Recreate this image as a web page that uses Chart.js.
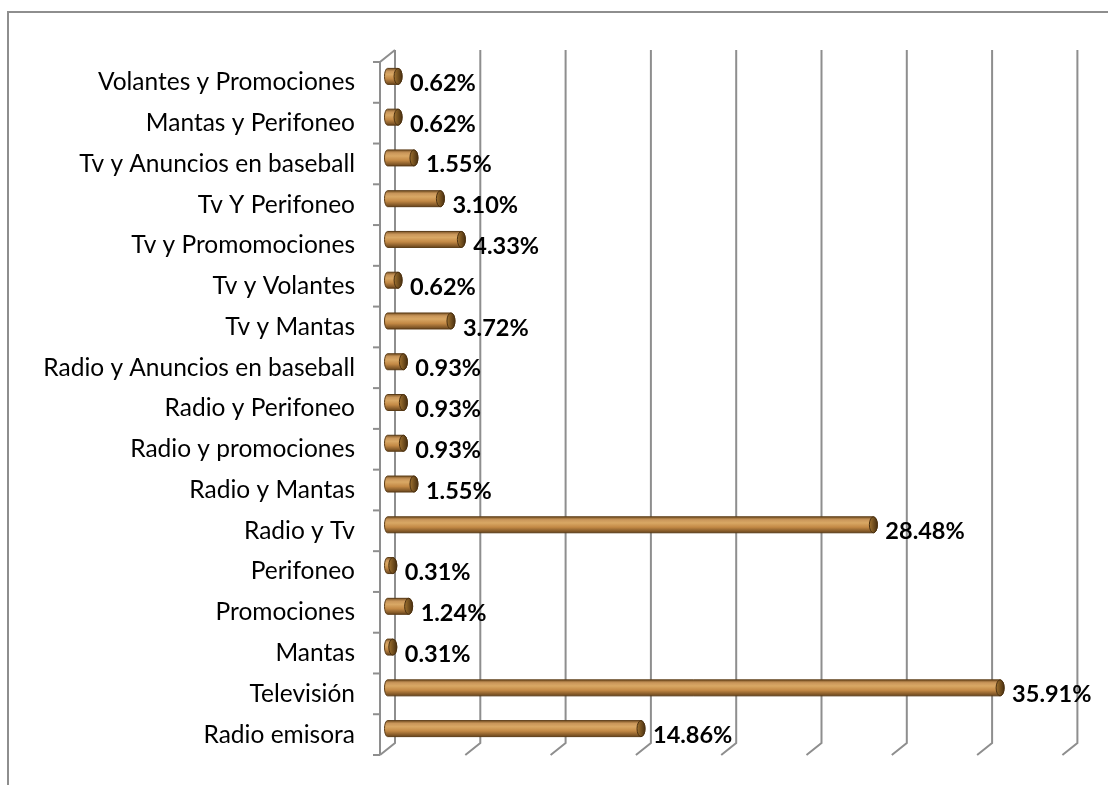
<!DOCTYPE html>
<html>
<head>
<meta charset="utf-8">
<script src="https://cdn.jsdelivr.net/npm/chart.js@4.4.0/dist/chart.umd.min.js"></script>
<style>
  html, body { margin: 0; padding: 0; background: #fff; }
  #wrap { width: 1108px; height: 785px; }
</style>
</head>
<body>
<div id="wrap"><canvas id="mediosChart" width="1108" height="785"></canvas></div>
<script>
// Medios de publicidad (porcentaje de respuestas), de arriba hacia abajo
const categorias = [
    'Volantes y Promociones',
    'Mantas y Perifoneo',
    'Tv y Anuncios en baseball',
    'Tv Y Perifoneo',
    'Tv y Promomociones',
    'Tv y Volantes',
    'Tv y Mantas',
    'Radio y Anuncios en baseball',
    'Radio y Perifoneo',
    'Radio y promociones',
    'Radio y Mantas',
    'Radio y Tv',
    'Perifoneo',
    'Promociones',
    'Mantas',
    'Televisión',
    'Radio emisora'
];
const porcentajes = [0.62, 0.62, 1.55, 3.10, 4.33, 0.62, 3.72, 0.93, 0.93, 0.93, 1.55, 28.48, 0.31, 1.24, 0.31, 35.91, 14.86];
const ejeMax = 40;
const ejePaso = 5;

// profundidad del efecto 3D (pared del fondo)
const DEPTH_X = 15;
const DEPTH_Y = -12;
const GRID_COLOR = '#8e8e8e';

// marco exterior, pared lateral y líneas de división en perspectiva
const wallsPlugin = {
    id: 'walls',
    beforeDatasetsDraw(chart) {
        const ctx = chart.ctx;
        const area = chart.chartArea;
        const x = chart.scales.x;
        ctx.save();
        ctx.strokeStyle = GRID_COLOR;
        ctx.lineWidth = 2;

        // marco
        ctx.beginPath();
        ctx.moveTo(8, chart.height);
        ctx.lineTo(8, 12);
        ctx.lineTo(chart.width, 12);
        ctx.stroke();

        // líneas verticales del fondo con su pie inclinado
        x.ticks.forEach(t => {
            const px = x.getPixelForValue(t.value);
            ctx.beginPath();
            ctx.moveTo(px + DEPTH_X, area.top + DEPTH_Y);
            ctx.lineTo(px + DEPTH_X, area.bottom + DEPTH_Y);
            ctx.lineTo(px, area.bottom);
            ctx.stroke();
        });

        // eje de categorías (frente) y marcas
        const x0 = x.getPixelForValue(0);
        ctx.beginPath();
        ctx.moveTo(x0 + DEPTH_X, area.top + DEPTH_Y);
        ctx.lineTo(x0, area.top);
        ctx.lineTo(x0, area.bottom);
        ctx.stroke();
        const n = categorias.length;
        const paso = (area.bottom - area.top) / n;
        for (let i = 0; i <= n; i++) {
            const py = area.top + i * paso;
            ctx.beginPath();
            ctx.moveTo(x0 - 7, py);
            ctx.lineTo(x0, py);
            ctx.stroke();
        }
        ctx.restore();
    }
};

// cilindros y etiquetas de valor
const cylinderPlugin = {
    id: 'cylinders',
    afterDatasetsDraw(chart) {
        const ctx = chart.ctx;
        const meta = chart.getDatasetMeta(0);
        const ox = DEPTH_X / 2;
        const oy = DEPTH_Y / 2;
        ctx.save();
        meta.data.forEach((bar, i) => {
            const h = bar.height;
            const r = h / 2;
            const cx = 4;
            const x0 = bar.base + ox;
            const x1 = bar.x + ox;
            const cy = bar.y + oy;
            const top = cy - r;

            const grad = ctx.createLinearGradient(0, top, 0, top + h);
            grad.addColorStop(0, '#7c5526');
            grad.addColorStop(0.18, '#c9965a');
            grad.addColorStop(0.38, '#d9a865');
            grad.addColorStop(0.65, '#c38945');
            grad.addColorStop(1, '#6a461d');

            ctx.beginPath();
            ctx.moveTo(x0, top);
            ctx.lineTo(x1, top);
            ctx.ellipse(x1, cy, cx, r, 0, -Math.PI / 2, Math.PI / 2);
            ctx.lineTo(x0, top + h);
            ctx.ellipse(x0, cy, cx - 1, r, 0, Math.PI / 2, Math.PI * 1.5);
            ctx.closePath();
            ctx.fillStyle = grad;
            ctx.fill();
            ctx.lineWidth = 1;
            ctx.strokeStyle = '#5b3c17';
            ctx.stroke();

            // tapa del extremo
            const capGrad = ctx.createLinearGradient(x1 - cx, 0, x1 + cx, 0);
            capGrad.addColorStop(0, '#a0722f');
            capGrad.addColorStop(1, '#4a3010');
            ctx.beginPath();
            ctx.ellipse(x1, cy, cx, r, 0, 0, Math.PI * 2);
            ctx.fillStyle = capGrad;
            ctx.fill();
            ctx.strokeStyle = '#4a3010';
            ctx.stroke();

            // etiqueta
            ctx.fillStyle = '#000';
            ctx.font = 'bold 23.5px Lato';
            ctx.textAlign = 'left';
            ctx.textBaseline = 'middle';
            ctx.fillText(porcentajes[i].toFixed(2) + '%', x1 + cx + 8, bar.y + 1);
        });
        ctx.restore();
    }
};

const ctx = document.getElementById('mediosChart').getContext('2d');
const chart = new Chart(ctx, {
    type: 'bar',
    data: {
        labels: categorias,
        datasets: [{
            data: porcentajes,
            backgroundColor: 'rgba(0,0,0,0)',
            borderWidth: 0,
            barThickness: 16
        }]
    },
    options: {
        indexAxis: 'y',
        responsive: false,
        animation: false,
        devicePixelRatio: 1,
        layout: { padding: { left: 0, top: 62, right: 45.6, bottom: 30 } },
        plugins: {
            legend: { display: false },
            tooltip: { enabled: false }
        },
        scales: {
            x: {
                display: false,
                min: 0,
                max: ejeMax,
                ticks: { stepSize: ejePaso }
            },
            y: {
                grid: { display: false, drawTicks: false },
                border: { display: false },
                ticks: {
                    color: '#000',
                    font: { family: 'Lato', size: 24.5 },
                    padding: 25
                },
                afterFit(scale) {
                    scale.width = 380;
                    // el padding de las etiquetas no debe recortar el área
                    scale.paddingTop = 0;
                    scale.paddingBottom = 0;
                }
            }
        }
    },
    plugins: [wallsPlugin, cylinderPlugin]
});
</script>
</body>
</html>
